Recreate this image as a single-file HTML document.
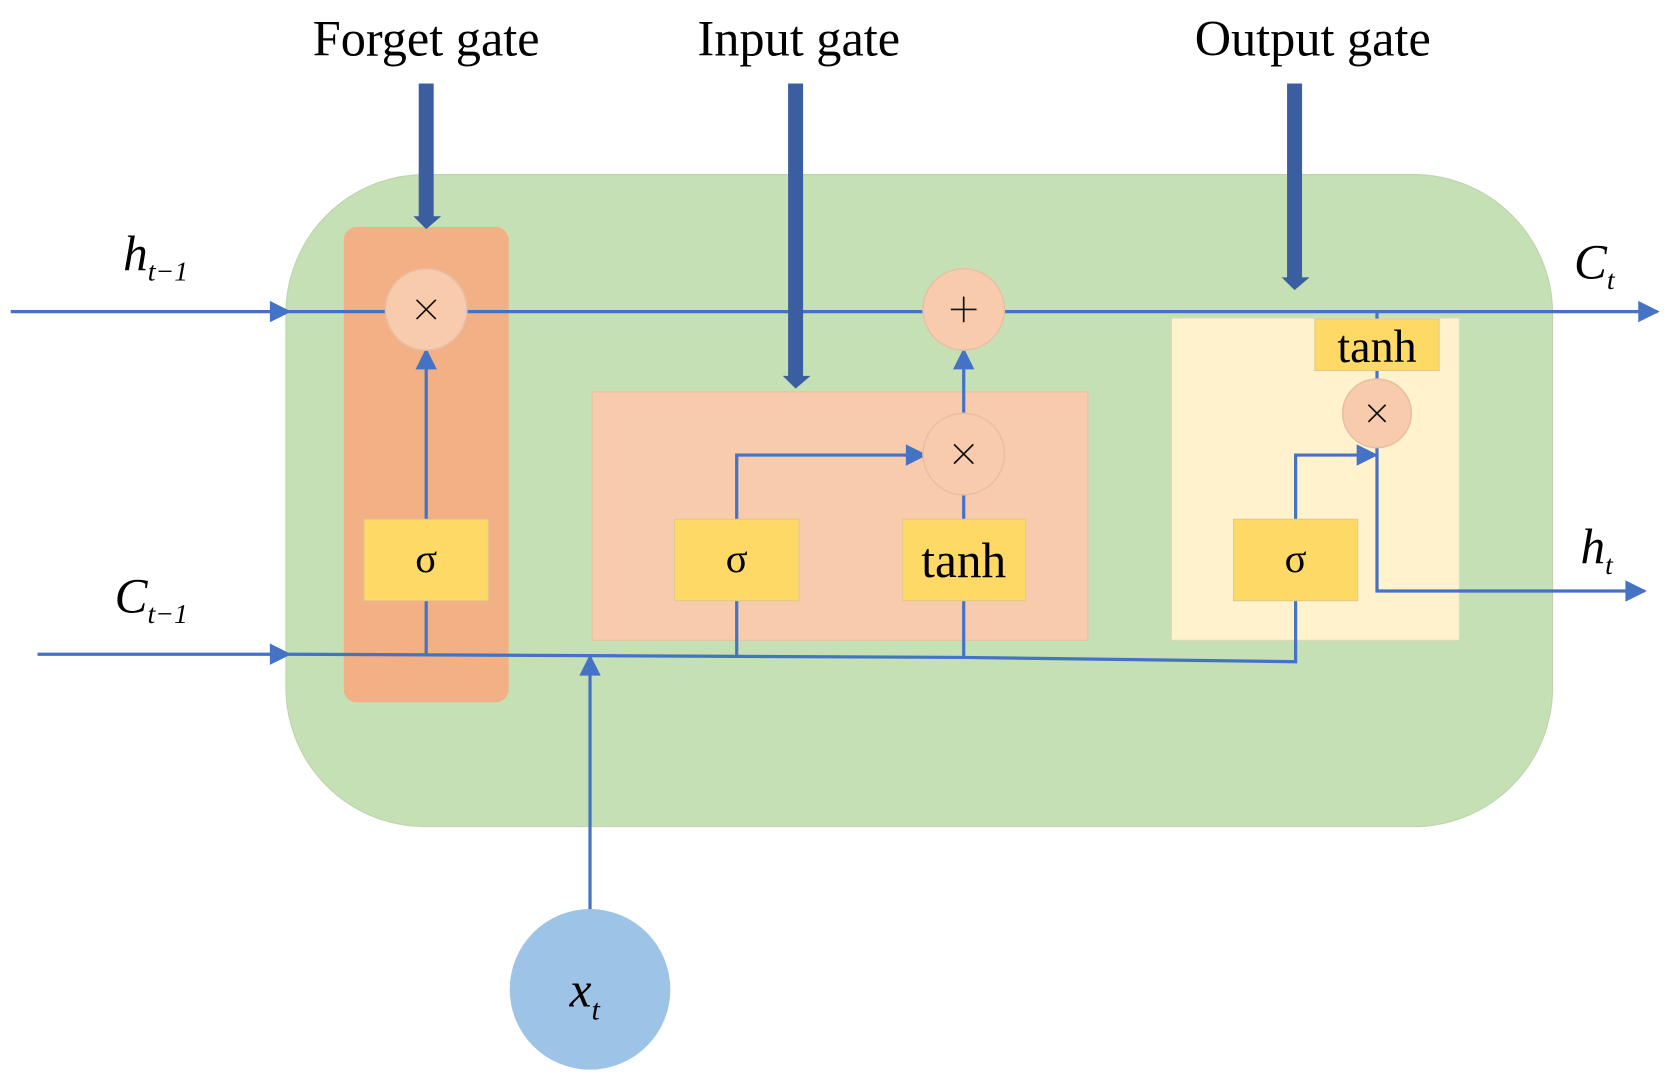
<!DOCTYPE html>
<html><head><meta charset="utf-8"><style>html,body{margin:0;padding:0;background:#fff}svg{display:block}</style></head>
<body>
<svg width="1679" height="1090" viewBox="0 0 1568 1018" xmlns="http://www.w3.org/2000/svg" font-family="Liberation Serif, serif">
<defs>
<marker id="b" viewBox="0 0 10 10" refX="9" refY="5" markerWidth="22" markerHeight="20" orient="auto" markerUnits="userSpaceOnUse"><path d="M0,0 L10,5 L0,10Z" fill="#4472c4"/></marker>
</defs>
<rect x="267" y="163" width="1183" height="609" rx="130" fill="#c5e0b4" stroke="#bcd4ab"/>
<rect x="321" y="212" width="154" height="444" rx="12" fill="#f2b084"/>
<rect x="553" y="366" width="463" height="232" fill="#f7cbab" stroke="#e8c0a0"/>
<rect x="1094" y="297" width="269" height="301" fill="#fff2cc" stroke="#e0d8b8"/>
<g stroke="#4472c4" stroke-width="3" fill="none">
<line x1="10" y1="291" x2="270" y2="291" marker-end="url(#b)"/>
<line x1="270" y1="291" x2="1548" y2="291" marker-end="url(#b)"/>
<line x1="35" y1="611" x2="270" y2="611" marker-end="url(#b)"/>
<polyline points="270,611 900,614 1210,618 1210,561"/>
<line x1="398" y1="611" x2="398" y2="561"/>
<line x1="688" y1="613" x2="688" y2="561"/>
<line x1="900" y1="614" x2="900" y2="561"/>
<line x1="551" y1="850" x2="551" y2="613" marker-end="url(#b)"/>
<line x1="398" y1="485" x2="398" y2="327" marker-end="url(#b)"/>
<polyline points="688,485 688,425 864,425" marker-end="url(#b)"/>
<line x1="900" y1="485" x2="900" y2="460"/>
<line x1="900" y1="386" x2="900" y2="327" marker-end="url(#b)"/>
<polyline points="1210,485 1210,425 1285,425" marker-end="url(#b)"/>
<line x1="1286" y1="291" x2="1286" y2="300"/>
<line x1="1286" y1="346" x2="1286" y2="356"/>
<polyline points="1286,418 1286,552 1536,552" marker-end="url(#b)"/>
</g>
<g fill="#f8cbad" stroke="#e8bfa5" stroke-width="1.5">
<circle cx="398" cy="289" r="38"/><circle cx="900" cy="289" r="38"/><circle cx="900" cy="424" r="38"/><circle cx="1286" cy="386" r="32"/>
</g>
<g fill="#ffd966" stroke="#e2c98a" stroke-width="1">
<rect x="340" y="485" width="116" height="76"/><rect x="630" y="485" width="116" height="76"/><rect x="843" y="485" width="115" height="76"/><rect x="1152" y="485" width="116" height="76"/><rect x="1228" y="298" width="116" height="48"/>
</g>
<g stroke="#111" stroke-width="1.6">
<path d="M389,280 L407,298 M407,280 L389,298"/>
<path d="M891,415 L909,433 M909,415 L891,433"/>
<path d="M1278,378 L1294,394 M1294,378 L1278,394"/>
<path d="M888,289 L912,289 M900,277 L900,301"/>
</g>
<circle cx="551" cy="924" r="75" fill="#9dc3e6"/>
<g fill="#3a5ea0">
<rect x="391" y="78" width="14" height="125"/><path d="M386,202 L412,202 L398,214Z"/>
<rect x="736" y="78" width="14" height="274"/><path d="M731,351 L757,351 L743,363Z"/>
<rect x="1202" y="78" width="14" height="182"/><path d="M1197,259 L1223,259 L1209,271Z"/>
</g>
<g font-size="47" text-anchor="middle" fill="#000">
<text x="398" y="52">Forget gate</text>
<text x="746" y="52">Input gate</text>
<text x="1226" y="52">Output gate</text>
</g>
<g font-size="38" text-anchor="middle">
<text x="398" y="534">σ</text><text x="688" y="534">σ</text><text x="1210" y="534">σ</text>
</g>
<text x="900" y="539" font-size="46" text-anchor="middle">tanh</text>
<text x="1286" y="338" font-size="43" text-anchor="middle">tanh</text>
<g font-style="italic" font-size="46">
<text x="115" y="252">h<tspan font-size="26" dy="10">t−1</tspan></text>
<text x="107" y="572">C<tspan font-size="26" dy="10">t−1</tspan></text>
<text x="1470" y="260">C<tspan font-size="26" dy="10">t</tspan></text>
<text x="1476" y="526">h<tspan font-size="26" dy="10">t</tspan></text>
<text x="532" y="940">x<tspan font-size="28" dy="12">t</tspan></text>
</g>
</svg>
</body></html>
